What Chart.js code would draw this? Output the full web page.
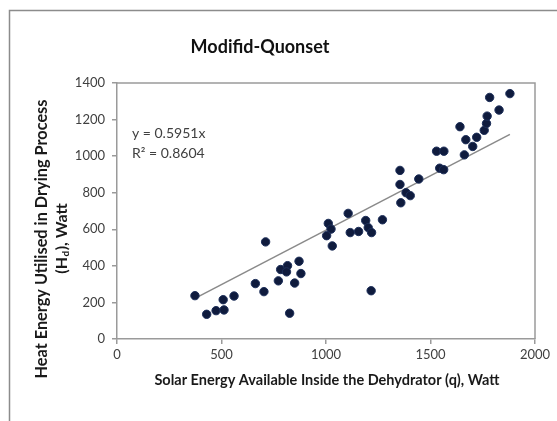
<!DOCTYPE html>
<html>
<head>
<meta charset="utf-8">
<script src="https://cdn.jsdelivr.net/npm/chart.js@4.4.1/dist/chart.umd.min.js"></script>
<style>
  html, body { margin: 0; padding: 0; background: #ffffff; }
  #wrap { width: 557px; height: 421px; position: relative; }
</style>
</head>
<body>
<div id="wrap"><canvas id="c" width="557" height="421"></canvas></div>
<script>
// ---- data ----
const solarEnergy = [373, 429, 474, 512, 508, 560, 662, 703, 711, 772, 783, 816, 811, 871, 880, 850, 826,
  1011, 1024, 1003, 1030, 1106, 1116, 1156, 1190, 1202, 1218, 1270, 1216,
  1354, 1354, 1358, 1383, 1403, 1444, 1529, 1564, 1544, 1563,
  1641, 1669, 1662, 1702, 1721, 1757, 1768, 1771, 1783, 1828, 1880];
const heatEnergy = [237, 135, 155, 159, 215, 235, 303, 259, 531, 318, 380, 401, 367, 425, 358, 306, 141,
  632, 601, 565, 509, 687, 582, 588, 648, 609, 582, 652, 264,
  922, 845, 745, 800, 784, 875, 1027, 1027, 934, 926,
  1161, 1090, 1007, 1053, 1103, 1141, 1179, 1219, 1321, 1252, 1342];
const trendX = [373, 1880];
const trendY = [222, 1119];
const xTicks = [0, 500, 1000, 1500, 2000];
const yTicks = [0, 200, 400, 600, 800, 1000, 1200, 1400];
const titleText = 'Modifid-Quonset';
const xTitle = 'Solar Energy Available Inside the Dehydrator (q), Watt';
const yTitleLine1 = 'Heat Energy Utilised in Drying Process';
const equationLines = ['y = 0.5951x', 'R² = 0.8604'];

const points = solarEnergy.map((x, i) => ({ x: x, y: heatEnergy[i] }));
const trend = trendX.map((x, i) => ({ x: x, y: trendY[i] }));

const FONT = 'Lato, "Open Sans", "Liberation Sans", sans-serif';

const decorPlugin = {
  id: 'decor',
  beforeDraw(chart) {
    const ctx = chart.ctx;
    ctx.save();
    ctx.fillStyle = '#ffffff';
    ctx.fillRect(0, 0, chart.width, chart.height);
    // outer chart border (left and top visible)
    ctx.strokeStyle = '#8c8c8c';
    ctx.lineWidth = 1.5;
    ctx.beginPath();
    ctx.moveTo(9.5, chart.height);
    ctx.lineTo(9.5, 10.5);
    ctx.lineTo(chart.width, 10.5);
    ctx.stroke();
    ctx.restore();
  },
  afterDraw(chart) {
    const ctx = chart.ctx;
    const a = chart.chartArea;
    ctx.save();
    // plot area top & right border
    ctx.strokeStyle = '#9a9a9a';
    ctx.lineWidth = 1.5;
    ctx.beginPath();
    ctx.moveTo(a.left, a.top);
    ctx.lineTo(a.right, a.top);
    ctx.lineTo(a.right, a.bottom);
    ctx.stroke();

    // title
    ctx.fillStyle = '#111111';
    ctx.font = 'bold 18px ' + FONT;
    ctx.textAlign = 'center';
    ctx.textBaseline = 'middle';
    ctx.fillText(titleText, 260, 47);

    // x title
    ctx.font = 'bold 14.5px ' + FONT;
    ctx.fillStyle = '#1a1a1a';
    ctx.fillText(xTitle, 327, 380);

    // y title (rotated, two lines with subscript)
    ctx.save();
    ctx.translate(42, 239);
    ctx.rotate(-Math.PI / 2);
    ctx.font = 'bold 16.3px ' + FONT;
    ctx.textAlign = 'center';
    ctx.textBaseline = 'middle';
    ctx.fillText(yTitleLine1, 0, 0);
    // second line: (Hd), Watt with subscript d
    const p1 = '(H', sub = 'd', p2 = '), Watt';
    ctx.font = 'bold 16px ' + FONT;
    const w1 = ctx.measureText(p1).width;
    const w3 = ctx.measureText(p2).width;
    ctx.font = 'bold 10px ' + FONT;
    const w2 = ctx.measureText(sub).width;
    const total = w1 + w2 + w3;
    let sx = -total / 2;
    ctx.textAlign = 'left';
    ctx.font = 'bold 16px ' + FONT;
    ctx.fillText(p1, sx, 20);
    sx += w1;
    ctx.font = 'bold 10px ' + FONT;
    ctx.fillText(sub, sx + 0.5, 24);
    sx += w2 + 1;
    ctx.font = 'bold 16px ' + FONT;
    ctx.fillText(p2, sx, 20);
    ctx.restore();

    // equation
    ctx.font = '14px ' + FONT;
    ctx.fillStyle = '#404040';
    ctx.textAlign = 'left';
    ctx.textBaseline = 'middle';
    ctx.fillText(equationLines[0], 132, 133);
    ctx.fillText(equationLines[1], 132, 153);
    ctx.restore();
  }
};

new Chart(document.getElementById('c'), {
  type: 'scatter',
  data: {
    datasets: [
      {
        label: 'Trend',
        type: 'line',
        data: trend,
        borderColor: '#8a8a8a',
        borderWidth: 1.5,
        pointRadius: 0,
        fill: false,
        order: 2
      },
      {
        label: 'Data',
        data: points,
        backgroundColor: '#0f1b3d',
        borderColor: '#1d2f5a',
        borderWidth: 1,
        pointRadius: 4.2,
        order: 1
      }
    ]
  },
  options: {
    responsive: false,
    animation: false,
    devicePixelRatio: 1,
    layout: { padding: { left: 60, right: 22, top: 83, bottom: 40 } },
    plugins: {
      legend: { display: false },
      title: { display: false },
      tooltip: { enabled: false }
    },
    scales: {
      x: {
        type: 'linear',
        min: 0,
        max: 2000,
        afterBuildTicks: (s) => { s.ticks = xTicks.map(v => ({ value: v })); },
        afterFit: (s) => { s.height = 42; },
        grid: { drawOnChartArea: false, drawTicks: true, tickLength: 5, color: '#9a9a9a', lineWidth: 1.5 },
        border: { display: true, color: '#9a9a9a', width: 1.5 },
        ticks: { color: '#404040', font: { family: FONT, size: 13 }, padding: 3, maxRotation: 0,
                 callback: (v) => String(v) }
      },
      y: {
        type: 'linear',
        min: 0,
        max: 1400,
        afterBuildTicks: (s) => { s.ticks = yTicks.map(v => ({ value: v })); },
        afterFit: (s) => { s.width = 57; },
        grid: { drawOnChartArea: false, drawTicks: true, tickLength: 5, color: '#9a9a9a', lineWidth: 1.5 },
        border: { display: true, color: '#9a9a9a', width: 1.5 },
        ticks: { color: '#404040', font: { family: FONT, size: 13 }, padding: 7,
                 callback: (v) => String(v) }
      }
    }
  },
  plugins: [decorPlugin]
});
</script>
</body>
</html>
